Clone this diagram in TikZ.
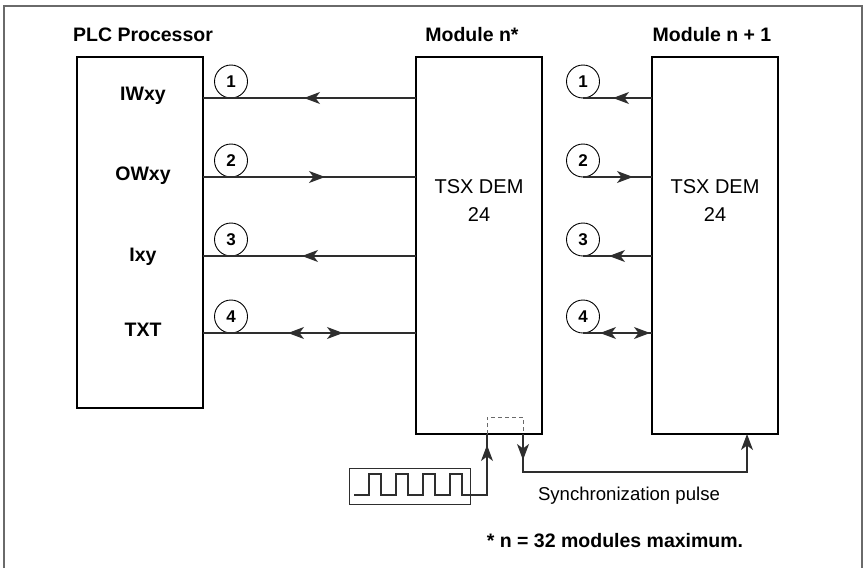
\documentclass[tikz,border=0pt]{standalone}
\usepackage{fontspec}
\setmainfont{Liberation Sans}
\usetikzlibrary{arrows.meta,positioning,calc,decorations.markings}
\definecolor{FrameGray}{HTML}{6A6A6A}
\definecolor{WireGray}{HTML}{2E2E2E}

\begin{document}
\begin{tikzpicture}[
  x=1pt, y=-1pt,
  wiretip/.tip={Stealth[length=16pt, width=12pt, inset=4.5pt]},
  unit/.style={draw, line width=2.6pt, minimum width=126pt, inner sep=0pt, outer sep=0pt},
  title/.style={font=\fontsize{19.5}{22}\selectfont\bfseries, anchor=base},
  sig/.style={font=\fontsize{19.5}{22}\selectfont\bfseries, anchor=base},
  dev/.style={font=\fontsize{20}{22}\selectfont, anchor=base},
  num/.style={draw, circle, line width=0.9pt, minimum size=33pt, inner sep=0pt, outer sep=0pt,
    font=\fontsize{17}{19}\selectfont\bfseries},
  wire/.style={line width=1.1pt, draw=WireGray},
  fwd/.style={postaction={decorate, decoration={markings, mark=at position #1 with {\arrow{wiretip}}}}},
  bwd/.style={postaction={decorate, decoration={markings, mark=at position #1 with {\arrowreversed{wiretip}}}}}
]
\useasboundingbox (0,0) rectangle (864,568);
\draw[FrameGray, line width=1.6pt] (4,568) -- (4,6) -- (862,6) -- (862,568);

% processor and modules
\node[unit, minimum height=351pt] (plc) at (140,232.5) {};
\node[unit, minimum height=377pt, right=213pt of plc.north east, anchor=north west] (modA) {};
\node[unit, minimum height=377pt, right=110pt of modA.north east, anchor=north west] (modB) {};

\node[title] (plcT) at (143,41) {PLC Processor};
\node[title] (modAT) at (472,41) {Module n*};
\node[title] (modBT) at (712,41) {Module n + 1};

% signals
\node[sig] (iw) at (143,100) {IWxy};
\node[sig] (ow) at (143,180) {OWxy};
\node[sig] (ix) at (143,261) {Ixy};
\node[sig] (txt) at (143,336) {TXT};

\node[dev] (devA) at ($(modA.north)+(0,136)$) {TSX DEM};
\node[dev] (devAn) at ($(modA.north)+(0,164)$) {24};
\node[dev] (devB) at ($(modB.north)+(0,136)$) {TSX DEM};
\node[dev] (devBn) at ($(modB.north)+(0,164)$) {24};

% numbered links
\foreach \i/\y in {1/81.5, 2/160.5, 3/239.5, 4/316.5} {
  \node[num] (lc\i) at (231,\y) {\i};
  \node[num] (rc\i) at (583,\y) {\i};
}

\draw[wire, bwd=101pt] (lc1.south -| plc.east) -- (lc1.south -| modA.west);
\draw[wire, fwd=122pt] (lc2.south -| plc.east) -- (lc2.south -| modA.west);
\draw[wire, bwd=99pt] (lc3.south -| plc.east) -- (lc3.south -| modA.west);
\draw[wire, bwd=85pt, fwd=140pt] (lc4.south -| plc.east) -- (lc4.south -| modA.west);

\draw[wire, bwd=30pt] (rc1.south) -- (rc1.south -| modB.west);
\draw[wire, fwd=50pt] (rc2.south) -- (rc2.south -| modB.west);
\draw[wire, bwd=26pt] (rc3.south) -- (rc3.south -| modB.west);
\draw[wire, bwd=17pt, fwd=67pt] (rc4.south) -- (rc4.south -| modB.west);

% synchronization
\node[draw=WireGray, line width=1pt, minimum width=121pt, minimum height=36pt, inner sep=0pt] (pulsebox) at (409.5,486) {};
\coordinate (syncIn) at ($(modA.south)+(8,0)$);
\coordinate (syncOut) at ($(modA.south)+(44,0)$);
\coordinate (syncB) at ($(modB.south)+(32,0)$);

\draw[wire, fwd=-11pt] (354,495)
  \foreach \k in {0,...,3} { -- ++(15,0) -- ++(0,-21) -- ++(12,0) -- ++(0,21) }
  -- (syncIn |- 0,495) -- (syncIn);
\draw[FrameGray, line width=1pt, dash pattern=on 4pt off 3pt] (syncIn) -- ++(0,-17) -| (syncOut);
\draw[wire, fwd=26pt, -{wiretip}] (syncOut) -- ++(0,38) -| (syncB);

\node[font=\fontsize{18.6}{22}\selectfont, anchor=base] (syncT) at (629,500) {Synchronization pulse};
\node[font=\fontsize{19.5}{22}\selectfont\bfseries, anchor=base] (note) at (615,547) {* n = 32 modules maximum.};
\end{tikzpicture}
\end{document}
